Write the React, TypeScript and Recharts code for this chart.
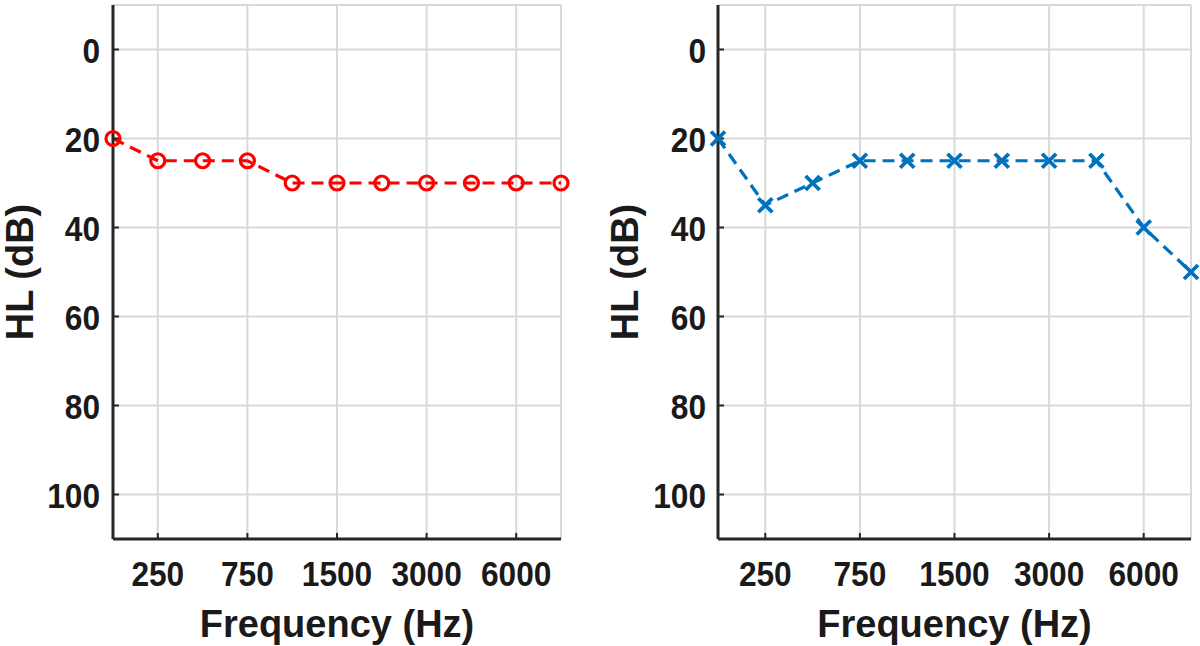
import { LineChart, Line, XAxis, YAxis, CartesianGrid, Label } from "recharts"

const FONT = "'Liberation Sans', Arial, Helvetica, sans-serif"
const INK = "#1a1a1a"
const AXIS = "#262626"
const GRID = "#d9d9d9"

// audiogram values
const freqs = [125, 250, 500, 750, 1000, 1500, 2000, 3000, 4000, 6000, 8000]
const rightEar = [20, 25, 25, 25, 30, 30, 30, 30, 30, 30, 30]
const leftEar = [20, 35, 30, 25, 25, 25, 25, 25, 25, 40, 50]
const labeledFreqs = [250, 750, 1500, 3000, 6000]
const dbTicks = [0, 20, 40, 60, 80, 100]
const dbDomain = [-10, 110]

const freqTicks = labeledFreqs.map((f) => freqs.indexOf(f))
const idxDomain = [0, freqs.length - 1]

type Marker = "circle" | "cross"

const makeDot = (marker: Marker, color: string) => (props: any) => {
  const { cx, cy, index } = props
  if (cx == null || cy == null) return <g key={`dot-${index}`} />
  if (marker === "circle") {
    return (
      <circle key={`dot-${index}`} cx={cx} cy={cy} r={7} fill="none" stroke={color} strokeWidth={3.2} />
    )
  }
  const s = 7
  return (
    <path
      key={`dot-${index}`}
      d={`M${cx - s},${cy - s}L${cx + s},${cy + s}M${cx - s},${cy + s}L${cx + s},${cy - s}`}
      fill="none"
      stroke={color}
      strokeWidth={3.8}
    />
  )
}

// MATLAB-ish narrow bold digits: slightly squeezed horizontally
const TICK_FONT = 36
const squeezedText = (x: number, y: number, anchor: string, label: string) => (
  <g transform={`translate(${x},${y}) scale(0.88,1)`}>
    <text x={0} y={0} textAnchor={anchor} fill={INK} fontSize={TICK_FONT} fontWeight={700} fontFamily={FONT}>
      {label}
    </text>
  </g>
)

const FreqTick = (props: any) => {
  const { x, y, payload } = props
  return squeezedText(x, y + 26, "middle", String(freqs[payload.value]))
}

const DbTick = (props: any) => {
  const { x, y, payload } = props
  return squeezedText(x, y + 13, "end", String(payload.value))
}

interface EarPanelProps {
  title: string
  titleSide: "left" | "right"
  values: number[]
  color: string
  marker: Marker
  left: number
  axisWidth: number
  rightGap: number
  tickGap: number
}

const axisLineStyle = { stroke: AXIS, strokeWidth: 3 }
const tickLineStyle = { stroke: AXIS, strokeWidth: 2 }

const EarPanel = ({ title, titleSide, values, color, marker, left, axisWidth, rightGap, tickGap }: EarPanelProps) => {
  const data = freqs.map((f, i) => ({ idx: i, freq: f, hl: values[i] }))

  return (
    <div style={{ position: "absolute", left, top: 0 }}>
      <LineChart width={600} height={646} data={data} margin={{ top: 5, right: rightGap, bottom: 57, left: 0 }}>
        <CartesianGrid stroke={GRID} strokeWidth={2} />
        <XAxis
          dataKey="idx"
          type="number"
          domain={idxDomain}
          ticks={freqTicks}
          interval={0}
          height={50}
          tickSize={-6}
          tickMargin={27}
          axisLine={axisLineStyle}
          tickLine={tickLineStyle}
          tick={<FreqTick />}
        >
          <Label
            content={(p: any) => {
              const vb = p.viewBox || {}
              return (
                <text
                  x={vb.x + vb.width / 2}
                  y={vb.y + 98}
                  textAnchor="middle"
                  fill={INK}
                  fontSize={38}
                  fontWeight={700}
                  fontFamily={FONT}
                >
                  Frequency (Hz)
                </text>
              )
            }}
          />
        </XAxis>
        {/* top edge of the box, with inward ticks */}
        <XAxis
          xAxisId="top"
          orientation="top"
          type="number"
          domain={idxDomain}
          ticks={freqTicks}
          interval={0}
          height={0}
          tick={false}
          tickSize={-6}
          axisLine={axisLineStyle}
          tickLine={tickLineStyle}
        >
          <Label
            content={(p: any) => {
              const vb = p.viewBox || {}
              const isLeft = titleSide === "left"
              return (
                <text
                  x={isLeft ? vb.x + 22 : vb.x + vb.width - 18}
                  y={vb.y + 43}
                  textAnchor={isLeft ? "start" : "end"}
                  fill={INK}
                  fontSize={28}
                  fontWeight={700}
                  fontFamily={FONT}
                >
                  {title}
                </text>
              )
            }}
          />
        </XAxis>
        <YAxis
          type="number"
          domain={dbDomain}
          reversed={true}
          ticks={dbTicks}
          interval={0}
          width={axisWidth}
          tickSize={-6}
          tickMargin={tickGap}
          axisLine={axisLineStyle}
          tickLine={tickLineStyle}
          tick={<DbTick />}
        >
          <Label
            content={(p: any) => {
              const vb = p.viewBox || {}
              const cx = vb.x + vb.width - 93
              const cy = vb.y + vb.height / 2
              return (
                <text
                  transform={`translate(${cx},${cy}) rotate(-90)`}
                  x={0}
                  y={13}
                  textAnchor="middle"
                  fill={INK}
                  fontSize={38}
                  fontWeight={700}
                  fontFamily={FONT}
                >
                  HL (dB)
                </text>
              )
            }}
          />
        </YAxis>
        {/* right edge of the box */}
        <YAxis
          yAxisId="right"
          orientation="right"
          type="number"
          domain={dbDomain}
          reversed={true}
          ticks={dbTicks}
          interval={0}
          width={0}
          tick={false}
          tickSize={-6}
          axisLine={axisLineStyle}
          tickLine={tickLineStyle}
        />
        <Line
          type="linear"
          dataKey="hl"
          stroke={color}
          strokeWidth={3.2}
          strokeDasharray="12 7"
          dot={makeDot(marker, color)}
          activeDot={false}
          isAnimationActive={false}
        />
      </LineChart>
    </div>
  )
}

export default function App() {
  return (
    <div style={{ position: "absolute", left: 0, top: 0, width: 1200, height: 646, background: "#fff" }}>
      <EarPanel
        title="Right ear"
        titleSide="left"
        values={rightEar}
        color="#ff0000"
        marker="circle"
        left={0}
        axisWidth={113}
        rightGap={39}
        tickGap={19}
      />
      <EarPanel
        title="Left ear"
        titleSide="right"
        values={leftEar}
        color="#0072bd"
        marker="cross"
        left={600}
        axisWidth={118}
        rightGap={9}
        tickGap={18}
      />
    </div>
  )
}
